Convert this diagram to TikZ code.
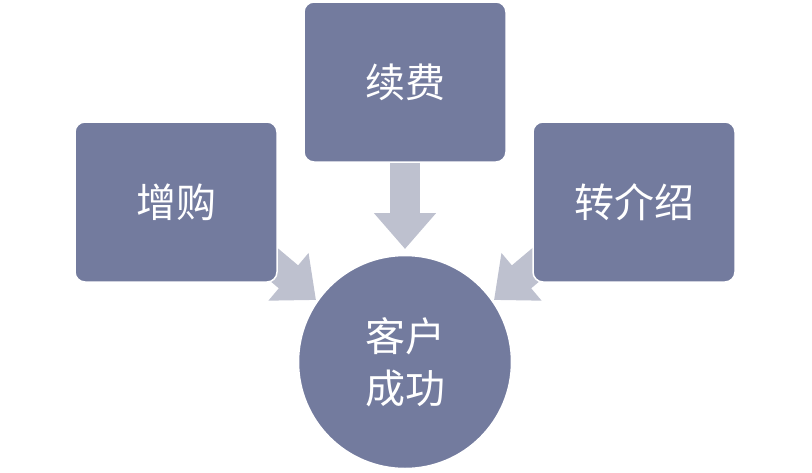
\documentclass[tikz,border=0pt]{standalone}
\usepackage{fontspec}
\newfontfamily\cjk{Noto Sans CJK SC}
\usetikzlibrary{arrows.meta}
\definecolor{boxblue}{RGB}{115,123,158}
\definecolor{arrowgray}{RGB}{190,193,207}
\tikzset{
  stagebox/.style={draw=white, line width=1.5pt, fill=boxblue, rounded corners=10pt,
    minimum width=202pt, minimum height=160pt, text=white, font=\cjk\fontsize{40}{48}\selectfont},
  flowarrow/.style={draw=arrowgray, line width=30pt, -{Triangle[width=60pt,length=36pt]}}
}
\begin{document}
\begin{tikzpicture}[x=1pt,y=-1pt]
    \useasboundingbox (0,0) rectangle (812,472);

    \coordinate (topstart) at (405,160);
    \coordinate (toptip) at (405,249);
    \coordinate (leftstart) at (240,236);
    \coordinate (lefttip) at (316,300);
    \coordinate (rightstart) at (570,236);
    \coordinate (righttip) at (494,300);

    \draw[flowarrow] (topstart) -- (toptip);
    \draw[flowarrow] (leftstart) -- (lefttip);
    \draw[flowarrow] (rightstart) -- (righttip);

    \node[stagebox] (zenggou) at (176,202) {增购};
    \node[stagebox] (xufei) at (405,82) {续费};
    \node[stagebox] (zhuanjie) at (634,202) {转介绍};

    \node[circle, draw=white, line width=1.5pt, fill=boxblue, minimum size=213pt,
      text=white, align=center, font=\cjk\fontsize{40}{52}\selectfont] (success) at (405,362) {客户\\成功};
\end{tikzpicture}
\end{document}
